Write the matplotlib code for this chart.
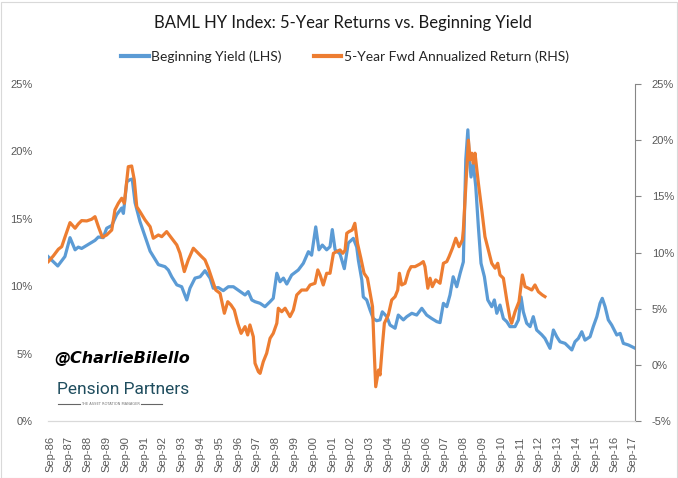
import matplotlib
matplotlib.use("Agg")
import matplotlib.pyplot as plt
from matplotlib.lines import Line2D
from matplotlib.patches import Rectangle
from matplotlib.ticker import FuncFormatter, MultipleLocator

# ---------------- data ----------------
yield_t = [1986.56, 1987.08, 1987.46, 1987.73, 1988.00, 1988.17, 1988.35, 1988.70, 1989.06, 1989.24,
           1989.50, 1989.68, 1989.95, 1990.21, 1990.48, 1990.57, 1990.75, 1990.92, 1991.04, 1991.19,
           1991.45, 1991.72, 1991.99, 1992.43, 1992.78, 1992.96, 1993.14, 1993.41, 1993.67, 1993.94,
           1994.11, 1994.38, 1994.65, 1994.91, 1995.18, 1995.35, 1995.62, 1995.88, 1996.15, 1996.42,
           1996.68, 1997.04, 1997.21, 1997.40, 1997.57, 1997.84, 1998.10, 1998.37, 1998.54, 1998.73,
           1998.90, 1999.08, 1999.26, 1999.52, 1999.87, 2000.14, 2000.41, 2000.58, 2000.80, 2000.97,
           2001.15, 2001.38, 2001.56, 2001.68, 2001.83, 2002.09, 2002.32, 2002.53, 2002.80, 2002.98,
           2003.07, 2003.25, 2003.33, 2003.51, 2003.69, 2003.86, 2004.04, 2004.22, 2004.34, 2004.58,
           2004.75, 2005.02, 2005.19, 2005.46, 2005.64, 2005.91, 2006.17, 2006.44, 2006.70, 2006.97,
           2007.24, 2007.41, 2007.59, 2007.77, 2007.94, 2008.11, 2008.30, 2008.48, 2008.65, 2008.78,
           2008.89, 2008.97, 2009.06, 2009.18, 2009.31, 2009.45, 2009.59, 2009.77, 2009.95, 2010.16,
           2010.30, 2010.43, 2010.60, 2010.78, 2010.96, 2011.13, 2011.40, 2011.58, 2011.72, 2011.84,
           2012.02, 2012.20, 2012.37, 2012.55, 2012.82, 2012.99, 2013.26, 2013.44, 2013.62, 2013.79,
           2014.06, 2014.42, 2014.59, 2014.77, 2014.95, 2015.12, 2015.39, 2015.56, 2015.75, 2015.92,
           2016.04, 2016.19, 2016.36, 2016.54, 2016.81, 2016.99, 2017.16, 2017.43, 2017.78]
yield_pct = [12.2, 11.5, 12.2, 13.6, 12.7, 12.9, 12.8, 13.1, 13.4, 13.65,
             13.6, 14.3, 14.5, 15.3, 15.8, 15.4, 17.75, 17.9, 17.95, 16.2,
             14.8, 13.7, 12.6, 11.6, 11.45, 11.2, 10.7, 10.1, 9.96, 8.98,
             9.85, 10.6, 10.7, 11.15, 10.6, 9.85, 9.9, 9.67, 9.96, 9.96,
             9.7, 9.35, 9.6, 8.98, 8.85, 8.73, 8.48, 8.85, 9.1, 10.96,
             10.33, 10.6, 10.16, 10.83, 11.2, 11.7, 12.56, 12.3, 14.4, 12.7,
             13.05, 12.7, 12.93, 14.2, 12.7, 12.4, 11.3, 13.2, 13.55, 12.9,
             11.9, 10.46, 9.2, 8.98, 8.23, 7.6, 7.44, 7.5, 8.1, 7.74,
             7.12, 6.88, 7.86, 7.5, 7.74, 7.99, 7.86, 8.36, 7.86, 7.6,
             7.37, 7.3, 8.73, 8.48, 9.35, 10.7, 9.96, 10.96, 11.8, 19.4,
             21.6, 19.4, 18.1, 19.1, 17.4, 14.4, 11.7, 10.7, 8.98, 8.48,
             8.98, 7.99, 8.6, 7.6, 7.37, 7.0, 7.0, 7.5, 9.2, 8.1,
             7.25, 7.0, 7.74, 6.75, 6.4, 6.13, 5.39, 6.75, 6.25, 5.88,
             5.76, 5.27, 5.88, 6.13, 6.62, 6.0, 6.25, 7.0, 7.74, 8.73,
             9.1, 8.48, 7.5, 7.12, 6.38, 6.5, 5.76, 5.64, 5.4]

ret_t = [1986.58, 1986.84, 1987.11, 1987.29, 1987.46, 1987.73, 1988.00, 1988.17, 1988.35, 1988.62,
         1988.88, 1989.06, 1989.24, 1989.45, 1989.68, 1989.95, 1990.12, 1990.30, 1990.48, 1990.62,
         1990.83, 1991.01, 1991.15, 1991.28, 1991.45, 1991.72, 1991.99, 1992.16, 1992.43, 1992.61,
         1992.87, 1993.14, 1993.41, 1993.58, 1993.81, 1994.02, 1994.29, 1994.55, 1994.73, 1994.91,
         1995.09, 1995.27, 1995.48, 1995.71, 1995.94, 1996.12, 1996.29, 1996.47, 1996.65, 1996.83,
         1997.04, 1997.18, 1997.30, 1997.48, 1997.57, 1997.75, 1997.84, 1998.01, 1998.19, 1998.37,
         1998.54, 1998.73, 1998.81, 1998.99, 1999.17, 1999.43, 1999.61, 1999.79, 2000.05, 2000.32,
         2000.50, 2000.76, 2000.91, 2001.03, 2001.20, 2001.38, 2001.56, 2001.74, 2001.91, 2002.09,
         2002.24, 2002.36, 2002.45, 2002.57, 2002.74, 2002.88, 2003.02, 2003.20, 2003.37, 2003.55,
         2003.68, 2003.82, 2003.90, 2003.99, 2004.14, 2004.22, 2004.34, 2004.45, 2004.66, 2004.84,
         2005.02, 2005.16, 2005.25, 2005.37, 2005.55, 2005.73, 2005.87, 2006.08, 2006.35, 2006.52,
         2006.61, 2006.76, 2006.88, 2007.00, 2007.18, 2007.41, 2007.59, 2007.77, 2007.89, 2008.07,
         2008.25, 2008.42, 2008.60, 2008.65, 2008.78, 2008.92, 2009.01, 2009.10, 2009.18, 2009.27,
         2009.45, 2009.63, 2009.80, 2009.98, 2010.16, 2010.34, 2010.48, 2010.60, 2010.78, 2010.96,
         2011.13, 2011.22, 2011.40, 2011.61, 2011.79, 2011.93, 2012.11, 2012.29, 2012.46, 2012.64,
         2012.85, 2012.99]
ret_pct = [9.19, 9.69, 10.29, 10.52, 11.36, 12.66, 12.16, 12.54, 12.84, 12.81,
           12.96, 13.19, 12.3, 11.36, 11.56, 12.0, 13.79, 14.38, 14.83, 14.38,
           17.64, 17.7, 16.46, 14.08, 13.64, 12.9, 12.3, 11.27, 11.56, 11.41,
           11.86, 11.27, 10.67, 9.93, 8.3, 9.34, 10.38, 9.93, 9.63, 9.34,
           8.6, 7.71, 6.66, 6.37, 4.59, 5.62, 5.33, 4.88, 3.7, 2.8,
           3.4, 2.66, 3.55, 2.5, 0.14, -0.61, -0.76, 0.28, 1.03, 2.36,
           2.8, 3.7, 5.04, 4.73, 5.04, 4.29, 4.88, 6.22, 6.66, 6.66,
           7.11, 7.26, 8.45, 8.0, 7.11, 8.15, 8.15, 9.93, 10.08, 10.23,
           9.93, 10.2, 11.71, 11.86, 12.0, 12.6, 10.82, 9.49, 8.15, 7.71,
           6.51, 5.18, 1.62, -1.95, -0.46, -0.9, 1.62, 3.7, 4.44, 5.77,
           6.07, 6.66, 8.15, 7.11, 7.26, 8.3, 8.74, 8.74, 8.98, 9.19,
           8.74, 6.82, 7.71, 6.96, 7.56, 7.26, 9.04, 9.19, 9.63, 10.38,
           11.27, 10.52, 11.12, 12.0, 15.86, 20.0, 18.24, 18.84, 17.95, 18.84,
           16.17, 13.79, 11.41, 10.23, 9.04, 8.6, 9.04, 8.0, 7.71, 5.77,
           4.14, 3.7, 4.73, 5.62, 8.0, 6.96, 6.82, 6.66, 7.11, 6.51,
           6.22, 6.07]

tick_years = list(range(1986, 2018))
tick_labels = [f"Sep-{y % 100:02d}" for y in tick_years]

title = "BAML HY Index: 5-Year Returns vs. Beginning Yield"
label_yield = "Beginning Yield (LHS)"
label_ret = "5-Year Fwd Annualized Return (RHS)"

# ---------------- styling ----------------
BLUE = "#5B9BD5"
ORANGE = "#ED7D31"
TXT = "#595959"
TICKFONT = "Liberation Sans"
MAINFONT = "Lato"

fig = plt.figure(figsize=(6.78, 4.78), dpi=100)
fig.patch.set_facecolor("white")

ax = fig.add_axes([48 / 678, 1 - 421 / 478, (635 - 48) / 678, (421 - 84) / 478])
ax2 = ax.twinx()

ax.plot(yield_t, yield_pct, color=BLUE, lw=2.3, solid_joinstyle="round", zorder=3)
ax2.plot(ret_t, ret_pct, color=ORANGE, lw=2.3, solid_joinstyle="round", zorder=3)

ax.set_xlim(1986.56, 2017.78)
ax.set_ylim(0, 25)
ax2.set_ylim(-5, 25)

pct = FuncFormatter(lambda v, p: f"{v:.0f}%")
ax.yaxis.set_major_locator(MultipleLocator(5))
ax2.yaxis.set_major_locator(MultipleLocator(5))
ax.yaxis.set_major_formatter(pct)
ax2.yaxis.set_major_formatter(pct)

ax.set_xticks([y + 8 / 12 for y in tick_years])
ax.set_xticklabels(tick_labels, rotation=90, fontsize=8, family=TICKFONT, color=TXT)
ax.tick_params(axis="x", length=0, pad=11)
ax.tick_params(axis="y", length=0, pad=11, labelsize=8, labelcolor=TXT)
ax2.tick_params(axis="y", length=4, width=0.8, color="#868686", pad=8, labelsize=8, labelcolor=TXT)
for lab in ax.get_yticklabels() + ax2.get_yticklabels():
    lab.set_family(TICKFONT)

for a in (ax, ax2):
    a.spines["top"].set_visible(False)
    a.spines["left"].set_visible(False)
    a.spines["bottom"].set_color("#d9d9d9")
    a.patch.set_visible(False)
ax2.spines["right"].set_color("#868686")
ax2.spines["right"].set_linewidth(0.8)
ax.spines["right"].set_visible(False)

# title and legend
fig.text(343 / 678, 1 - 23 / 478, title, ha="center", va="center", fontsize=12,
         family=MAINFONT, color="#1a1a1a")
handles = [Line2D([], [], color=BLUE, lw=3), Line2D([], [], color=ORANGE, lw=3)]
fig.legend(handles, [label_yield, label_ret], loc="center", ncol=2,
           bbox_to_anchor=(345 / 678, 1 - 57 / 478), frameon=False,
           prop={"family": MAINFONT, "size": 10}, handlelength=1.95,
           handletextpad=0.2, columnspacing=2.3, labelcolor="#262626",
           borderpad=0, borderaxespad=0)

# watermark
fig.text(54 / 678, 1 - 358 / 478, "@CharlieBilello", ha="left", va="center",
         fontsize=11.5, fontweight="bold", fontstyle="italic", family="DejaVu Sans",
         color="black")
fig.text(57 / 678, 1 - 389 / 478, "Pension Partners", ha="left", va="center",
         fontsize=12.5, family="Roboto", color="#1f4d5e")
fig.text(110 / 678, 1 - 404 / 478, "THE ASSET ROTATION MANAGER", ha="center",
         va="center", fontsize=2.6, family="DejaVu Sans", color="#777777")
fig.add_artist(Line2D([58 / 678, 80 / 678], [1 - 404 / 478] * 2, color="#666666", lw=0.8))
fig.add_artist(Line2D([141 / 678, 162 / 678], [1 - 404 / 478] * 2, color="#666666", lw=0.8))

# figure border
fig.add_artist(Rectangle((0.5 / 678, 0.5 / 478), 676 / 678, 476 / 478,
                         transform=fig.transFigure, fill=False,
                         edgecolor="#d9d9d9", lw=0.8))

fig.savefig("out.png", dpi=100, facecolor="white")
